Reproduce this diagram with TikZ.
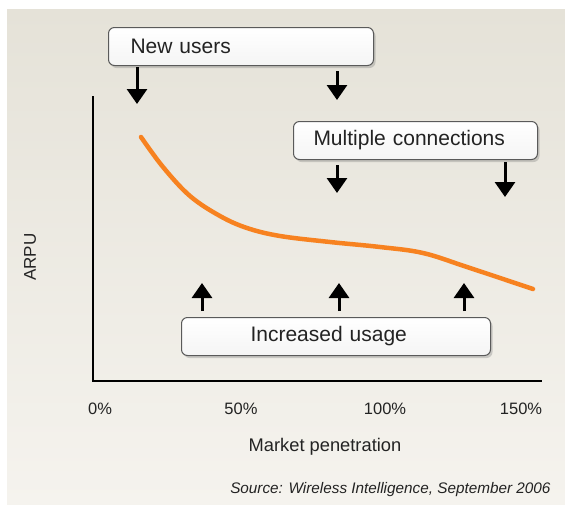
\documentclass[tikz,border=0pt]{standalone}
\usepackage{fontspec}
\setmainfont{Liberation Sans}
\usetikzlibrary{arrows.meta,shadows}

\definecolor{bgtop}{RGB}{229,226,216}
\definecolor{bgbottom}{RGB}{245,243,238}
\definecolor{boxline}{RGB}{90,90,90}
\definecolor{curveorange}{RGB}{247,130,32}
\definecolor{labelgray}{RGB}{35,35,35}

\begin{document}
\begin{tikzpicture}[x=1pt,y=-1pt]

 \tikzset{
    labelbox/.style={draw=boxline, line width=1pt, rounded corners=6pt,
      top color=white, bottom color=white!96!black, minimum height=38pt,
      align=left, anchor=north west, text=labelgray,
      font=\fontsize{21}{25}\selectfont,
      drop shadow={shadow xshift=2pt, shadow yshift=-2.5pt, opacity=0.35}},
    bigarrow/.style={line width=3pt, -{Triangle[width=20pt,length=15pt]}},
    axisline/.style={line width=2.2pt, line cap=rect},
    ticklabel/.style={font=\fontsize{16.5}{19}\selectfont, text=labelgray},
  }

  \useasboundingbox (0,0) rectangle (565,504);
  \shade[top color=bgtop, bottom color=bgbottom] (7,9) rectangle (565,504);

  \coordinate (origin) at (93,381);
  \coordinate (ytop) at (93,97);
  \coordinate (xend) at (541,381);
  \draw[axisline] (ytop) -- (origin) -- (xend);

  \node[labelbox, text width=221pt, inner xsep=22pt] (newusers) at (108,27) {New users};
  \node[labelbox, text width=204pt, inner xsep=20pt] (multiple) at (293,121) {Multiple connections};
  \node[labelbox, text width=171pt, inner xsep=69pt] (usage) at (181,317) {Increased usage};

  \coordinate (nu1a) at (137,67);  \coordinate (nu1b) at (137,104);
  \coordinate (nu2a) at (337,71);  \coordinate (nu2b) at (337,100);
  \coordinate (mc1a) at (337,165); \coordinate (mc1b) at (337,193);
  \coordinate (mc2a) at (505,162); \coordinate (mc2b) at (505,197);
  \coordinate (iu1a) at (202,311); \coordinate (iu1b) at (202,283);
  \coordinate (iu2a) at (339,311); \coordinate (iu2b) at (339,283);
  \coordinate (iu3a) at (464,311); \coordinate (iu3b) at (464,283);
  \foreach \a/\b in {nu1a/nu1b, nu2a/nu2b, mc1a/mc1b, mc2a/mc2b,
                     iu1a/iu1b, iu2a/iu2b, iu3a/iu3b}
    \draw[bigarrow] (\a) -- (\b);

  \draw[curveorange, line width=4.5pt, line cap=round] plot[smooth, tension=0.6]
    coordinates {(141,137) (163,167) (190,196) (220,216) (247,228) (280,236)
                 (330,242) (380,247) (423,253) (467,267) (533,289)};

  \node[ticklabel] (t0) at (100,409) {0\%};
  \node[ticklabel] (t50) at (241,409) {50\%};
  \node[ticklabel] (t100) at (385,409) {100\%};
  \node[ticklabel] (t150) at (521,409) {150\%};

  \node[font=\fontsize{18.3}{22}\selectfont, text=labelgray] (xlabel) at (325,447) {Market penetration};
  \node[font=\fontsize{17}{20}\selectfont, text=labelgray, rotate=90] (ylabel) at (30,257) {ARPU};
  \node[font=\itshape\fontsize{15.3}{18}\selectfont, text=labelgray, anchor=east] (source) at (554,490)
    {Source: Wireless Intelligence, September 2006};
\end{tikzpicture}
\end{document}
